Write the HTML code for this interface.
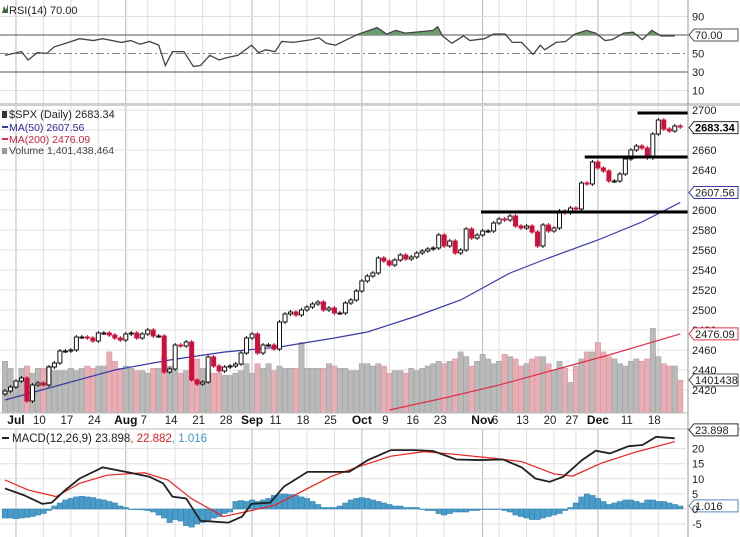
<!DOCTYPE html>
<html><head><meta charset="utf-8"><style>
body{margin:0;background:#fff;}
svg{display:block;font-family:"Liberation Sans",sans-serif;}
</style></head><body>
<svg id="chart" width="740" height="537" viewBox="0 0 740 537" xmlns="http://www.w3.org/2000/svg"></svg>
<script>
// ---- data ----
const closes=[2419,2423,2429,2432,2409,2425,2427,2425,2443,2447,2459,2459,2460,2473,2473,2472,2469,2477,2477,2475,2472,2470,2476,2477,2472,2476,2480,2474,2474,2438,2441,2465,2464,2468,2430,2426,2428,2453,2444,2439,2443,2444,2446,2457,2472,2476,2457,2465,2465,2461,2488,2496,2498,2495,2500,2503,2506,2508,2500,2502,2497,2497,2507,2510,2519,2529,2534,2537,2552,2549,2545,2550,2555,2551,2553,2557,2559,2561,2562,2575,2564,2569,2557,2560,2581,2572,2575,2579,2579,2587,2591,2590,2594,2584,2582,2584,2578,2564,2585,2579,2582,2599,2597,2602,2601,2627,2626,2648,2642,2639,2629,2629,2636,2651,2660,2664,2662,2652,2676,2690,2681,2679,2684,2683];
const firstOpen=2416;
const volumes=[2.2,1.9,1.3,1.9,2.0,1.7,1.9,1.9,2.0,1.8,1.8,1.8,1.9,1.8,1.9,2.0,1.9,2.0,2.0,2.6,2.2,1.9,2.0,1.9,1.8,1.8,1.7,1.9,1.9,2.4,2.0,1.8,1.7,1.8,2.2,2.3,1.9,1.8,1.7,1.7,1.6,1.6,1.7,1.8,2.1,1.7,2.1,1.9,2.1,1.8,2.0,1.9,1.9,1.9,3.0,1.9,1.9,1.9,1.9,2.1,2.0,1.9,1.9,1.8,1.8,2.1,2.1,2.0,2.1,2.0,1.7,1.8,1.8,1.7,1.9,1.8,1.9,2.0,2.1,2.2,2.1,2.2,2.3,2.6,2.4,2.0,2.2,2.5,2.3,2.1,2.2,2.5,2.4,2.3,2.0,2.1,2.3,2.4,2.4,2.1,1.8,2.2,1.9,1.3,2.0,2.3,2.6,2.6,3.0,2.6,2.4,2.3,2.1,2.0,2.2,2.3,2.2,2.3,3.6,2.4,2.1,2.0,2.0,1.4];
const ma50Bars=[0,10,20,30,40,50,60,66,75,83,92,99,108,116,123];
const ma50Vals=[2410,2425,2440,2450,2458,2463,2472,2478,2494,2510,2537,2552,2570,2588,2607.56];
const ma200Bars=[70,80,90,100,110,123];
const ma200Vals=[2400,2412,2425,2440,2455,2476.09];
const rsiBars=[0,3,4.2,5.9,7.6,8.9,11,13.6,16.1,17.8,21.2,22.9,24.6,26.3,28,29.2,30.5,32.6,34.3,35.6,37.3,39,40.7,42.4,44.9,46.2,47.5,49.2,50.4,52.5,55.9,57.2,58.5,60.2,61.9,64.4,67.8,69.5,71.2,72.9,74.6,78,78.8,79.7,81.4,83.5,84.7,87.3,89,91.1,92.4,94.1,96.2,97.5,98.3,100.4,102.1,103.8,105.9,107.6,109.3,110.6,112.7,114.4,116.1,117.8,119.5,122];
const rsiVals=[48,52,43,51,50,57,61,66,64,66,62,64,60,63,59,37,52,52,36,37,48,43,46,48,59,51,54,52,63,62,65,67,61,59,64,71,78,71,75,72,73,75,79,69,61,69,64,66,71,71,62,62,49,59,54,62,63,71,75,72,64,65,72,73,65,75,69,69];
const macdBars=[0,3.4,6.8,8.5,11,13.6,17.8,22,26.3,28.8,30.5,33,35.6,38.1,40.7,43.2,44.9,48.3,50.8,55.1,58.5,62.7,66.1,70.3,74.6,78,82.2,86.4,90.7,94.1,96.6,99.2,101.7,105.1,107.6,110.2,113.6,116.1,118.6,122];
const macdVals=[6.8,4.6,1.7,2.1,6.3,10.1,13.8,12.3,10.7,8.5,4.1,3.5,-3.9,-4.2,-4.5,-2.5,1.7,2.1,7.4,12.3,12.3,12.3,16.2,19.5,19.5,19.2,16.4,16.2,16.4,13.8,10.1,9.0,10.7,16.2,19.3,18.4,20.8,21.2,23.9,23.4];
const sigBars=[0,4.2,9.3,13.6,18.6,25.4,29.7,33.9,39.8,44.9,49.2,53.4,59.3,64.4,70.3,76.3,81.4,89,94.1,100,103.4,108.5,114.4,122];
const sigVals=[9.6,6.3,4.1,8.5,11.2,12.0,9.6,3.5,-2.5,-0.5,1.3,5.2,10.7,14.0,17.5,19.0,18.2,16.8,15.7,11.6,10.9,15.1,18.6,22.3];
const histVals=[-3,-3,-3.2,-3,-2.8,-2.5,-2,-1.5,-0.5,1,2,3,3.5,4,4.2,4,3.8,3.3,3,2.5,2,1,0.5,0,-0.2,-0.3,-0.5,-1,-2,-3,-4.5,-3.5,-4,-5.5,-6,-5,-4.5,-4,-3,-2.5,-1.5,-1,2.5,2.8,2.5,3,2.5,3,3.5,4.5,5,5,4.8,4.5,4,3.5,2.5,1.5,0.5,0.5,0.5,1,2,3,3.5,3.8,3.5,3,2.5,2,1.5,1,1,0.5,0.5,0.5,0,-0.5,-0.5,-1.5,-2,-1.5,-1,-1,-1,-0.5,-0.5,0,0,0,0,-0.5,-1,-2,-2.5,-3,-3.5,-3.5,-3,-2.5,-2,-1.5,-0.5,0.5,2,4,5,4.5,3.5,2.5,1.5,2,2.5,3,3,2.5,2,3,3,2.5,2.5,2,1.5,1];
const xLabels=["Jul","10","17","24","Aug","7","14","21","28","Sep","11","18","25","Oct","9","16","23","Nov","6","13","20","27","Dec","11","18"];
const xLabelBars=[2,7,12,17,22,26,31,36,41,45,50,55,60,65,70,75,80,87,90,95,100,104,108,114,119];
const priceTicks=[2420,2440,2460,2480,2500,2520,2540,2560,2580,2600,2620,2640,2660,2680,2700];
const rsiTicks=[10,30,50,70,90];
const macdTicks=[-5,0,5,10,15,20];
const supportLevels=[2697,2653,2598];
const supStart=[115.2,105.6,86.7];
</script>
<script>
const svg=document.getElementById('chart');
const NS='http://www.w3.org/2000/svg';
const PR=688;
const bx=i=>5+i*5.49;
const py=p=>110+(2700-p)*1.0;
const ry=v=>35+(70-v)*0.925;
const my=v=>509-v*3.02;
const vh=v=>v*23.5;
function el(tag,attrs,parent){const e=document.createElementNS(NS,tag);for(const k in attrs)e.setAttribute(k,attrs[k]);(parent||svg).appendChild(e);return e;}
function txt(s,x,y,attrs){const t=el('text',Object.assign({x:x,y:y,'font-size':11,fill:'#222'},attrs||{}));t.textContent=s;return t;}
el('rect',{x:0,y:0,width:740,height:537,fill:'#fff'});
const monthStarts=[2,22,45,65,87,108];
xLabelBars.forEach((b,i)=>{
  const g=el('g',{});
  
  
  const strong=monthStarts.includes(b);
  [[0,103],[106,413],[430,537]].forEach(r=>el('line',{x1:bx(b),x2:bx(b),y1:r[0],y2:r[1],stroke:strong?'#b8b8b8':'#e0e0e0','stroke-width':1},g));
});
const rsiG=el('g',{});


rsiTicks.forEach(v=>{
  const l=el('line',{x1:0,x2:PR,y1:ry(v),y2:ry(v),stroke:v==70||v==30?'#777':(v==50?'#888':'#e0e0e0'),'stroke-width':v==70||v==30?1.2:1},rsiG);
  if(v==50)l.setAttribute('stroke-dasharray','8,3,2,3');
  if(v!=70){const t=txt(String(v),692,ry(v)+4,{});rsiG.appendChild(t);}
});
let rsiPts=rsiBars.map((b,i)=>bx(b)+','+ry(rsiVals[i])).join(' ');
const clip=el('clipPath',{id:'above70'});el('rect',{x:0,y:0,width:PR,height:ry(70)},clip);
const fillPoly=el('polygon',{points:bx(rsiBars[0])+','+ry(70)+' '+rsiPts+' '+bx(rsiBars[rsiBars.length-1])+','+ry(70),fill:'#6e9b6e','clip-path':'url(#above70)'},rsiG);


const rl=el('polyline',{points:rsiPts,fill:'none',stroke:'#444','stroke-width':1.3},rsiG);


const rt=txt('RSI(14) 70.00',9,14,{});
el('path',{d:'M2 13 L4 6 L6 10 L8 4 L8 13Z',fill:'#3a6b3a'});
const mainG=el('g',{});


priceTicks.forEach(p=>{el('line',{x1:0,x2:PR,y1:py(p),y2:py(p),stroke:'#e0e0e0'},mainG);
  const t=txt(String(p),692,py(p)+4,{});});
el('rect',{x:0,y:103,width:740,height:3,fill:'#cfcfcf'});
el('line',{x1:0,x2:740,y1:429,y2:429,stroke:'#bbb'});
el('line',{x1:PR,x2:PR,y1:0,y2:537,stroke:'#999'});
el('line',{x1:0,x2:PR,y1:413,y2:413,stroke:'#bbb'});
closes.forEach((c,i)=>{
  const prev=i?closes[i-1]:firstOpen;
  const h=vh(volumes[i]);
  const r=el('rect',{x:bx(i)-2.7,y:413-h,width:5.4,height:h,fill:c<prev?'#e8aeb6':'#b9b9b9',stroke:c<prev?'#d8909a':'#a0a0a0','stroke-width':0.5},mainG);
  
  
});
const m50=el('polyline',{points:ma50Bars.map((b,i)=>bx(b)+','+py(ma50Vals[i])).join(' '),fill:'none',stroke:'#3a3aa8','stroke-width':1.2},mainG);


const m200=el('polyline',{points:ma200Bars.map((b,i)=>bx(b)+','+py(ma200Vals[i])).join(' '),fill:'none',stroke:'#e0304a','stroke-width':1.2},mainG);


closes.forEach((c,i)=>{
  const o=i?closes[i-1]:firstOpen;
  const down=c<o;
  const col=down?'#d0103a':'#111';
  const hi=Math.max(o,c)+2,lo=Math.min(o,c)-2;
  const g=el('g',{},mainG);
  
  
  el('line',{x1:bx(i),x2:bx(i),y1:py(hi),y2:py(lo),stroke:col,'stroke-width':1},g);
  const top=py(Math.max(o,c)),h=Math.max(1,Math.abs(py(o)-py(c)));
  el('rect',{x:bx(i)-2,y:top,width:4,height:h,fill:down?col:'#fff',stroke:col,'stroke-width':1},g);
});
supportLevels.forEach((p,i)=>{const l=el('line',{x1:bx(supStart[i]),x2:PR,y1:py(p),y2:py(p),stroke:'#000','stroke-width':3},mainG);
  });
function tag(s,y,col,bold,name){
  const g=el('g',{});
  el('path',{d:`M${PR+1} ${y} L${PR+6} ${y-6} L738 ${y-6} L738 ${y+6} L${PR+6} ${y+6}Z`,fill:'#fff',stroke:col,'stroke-width':1},g);
  const t=txt(s,PR+7,y+4,{fill:bold?'#000':'#222','font-weight':bold?'bold':'normal','font-size':11});g.appendChild(t);
}
tag('70.00',ry(70),'#555',false,'rsi-value-tag');
tag('2683.34',py(2683.34)+1,'#333',true,'price-value-tag');
tag('2607.56',py(2607.56)-10,'#3a3aa8',false,'ma50-value-tag');
tag('2476.09',py(2476.09),'#e0304a',false,'ma200-value-tag');
tag('1401438',380,'#555',false,'volume-value-tag');
tag('23.898',my(23.898)-7,'#333',false,'macd-value-tag');
tag('1.016',my(1.016),'#5a8abf',false,'histogram-value-tag');
const lg=el('g',{});
lg.appendChild(txt('$SPX (Daily) 2683.34',9,118,{}));
el('rect',{x:2,y:111,width:5,height:7,fill:'#333'},lg);
el('line',{x1:2,x2:8,y1:127,y2:127,stroke:'#3a3aa8','stroke-width':2},lg);
lg.appendChild(txt('MA(50) 2607.56',9,131,{fill:'#2a2a9a','font-size':10.5}));
el('line',{x1:2,x2:8,y1:139,y2:139,stroke:'#e0304a','stroke-width':2},lg);
lg.appendChild(txt('MA(200) 2476.09',9,143,{fill:'#d0203a','font-size':10.5}));
el('rect',{x:2,y:148,width:5,height:6,fill:'#999'},lg);
lg.appendChild(txt('Volume 1,401,438,464',9,154,{fill:'#444','font-size':10.5}));
xLabels.forEach((s,i)=>{const isM=isNaN(+s);
  const t=txt(s,bx(xLabelBars[i])-(isM?0:4),424,{'text-anchor':'middle','font-weight':isM?'bold':'normal','font-size':isM?12:11.5,fill:isM?'#111':'#222'});
  });
const mg=el('g',{});
macdTicks.forEach(v=>{el('line',{x1:0,x2:PR,y1:my(v),y2:my(v),stroke:'#e0e0e0'},mg);
  const t=txt(String(v),692,my(v)+4,{});});
histVals.forEach((v,i)=>{const y0=my(0),y1=my(v);
  const r=el('rect',{x:bx(i)-2.75,y:Math.min(y0,y1),width:5.5,height:Math.max(0.5,Math.abs(y1-y0)),fill:'#4a9cc8',stroke:'#2f7fae','stroke-width':0.5},mg);
  });
const sl=el('polyline',{points:sigBars.map((b,i)=>bx(b)+','+my(sigVals[i])).join(' '),fill:'none',stroke:'#e82020','stroke-width':1.2},mg);

const ml=el('polyline',{points:macdBars.map((b,i)=>bx(b)+','+my(macdVals[i])).join(' '),fill:'none',stroke:'#222','stroke-width':1.8},mg);

const ml2=el('g',{});
el('line',{x1:2,x2:9,y1:438,y2:438,stroke:'#222','stroke-width':2},ml2);
const t1=el('text',{x:12,y:442,'font-size':11.5,fill:'#222'},ml2);
[['MACD(12,26,9) 23.898','#222'],[', 22.882','#e82020'],[', 1.016','#3a9ad0']].forEach(a=>{const s=el('tspan',{fill:a[1]},t1);s.textContent=a[0];});
</script>
</body></html>
